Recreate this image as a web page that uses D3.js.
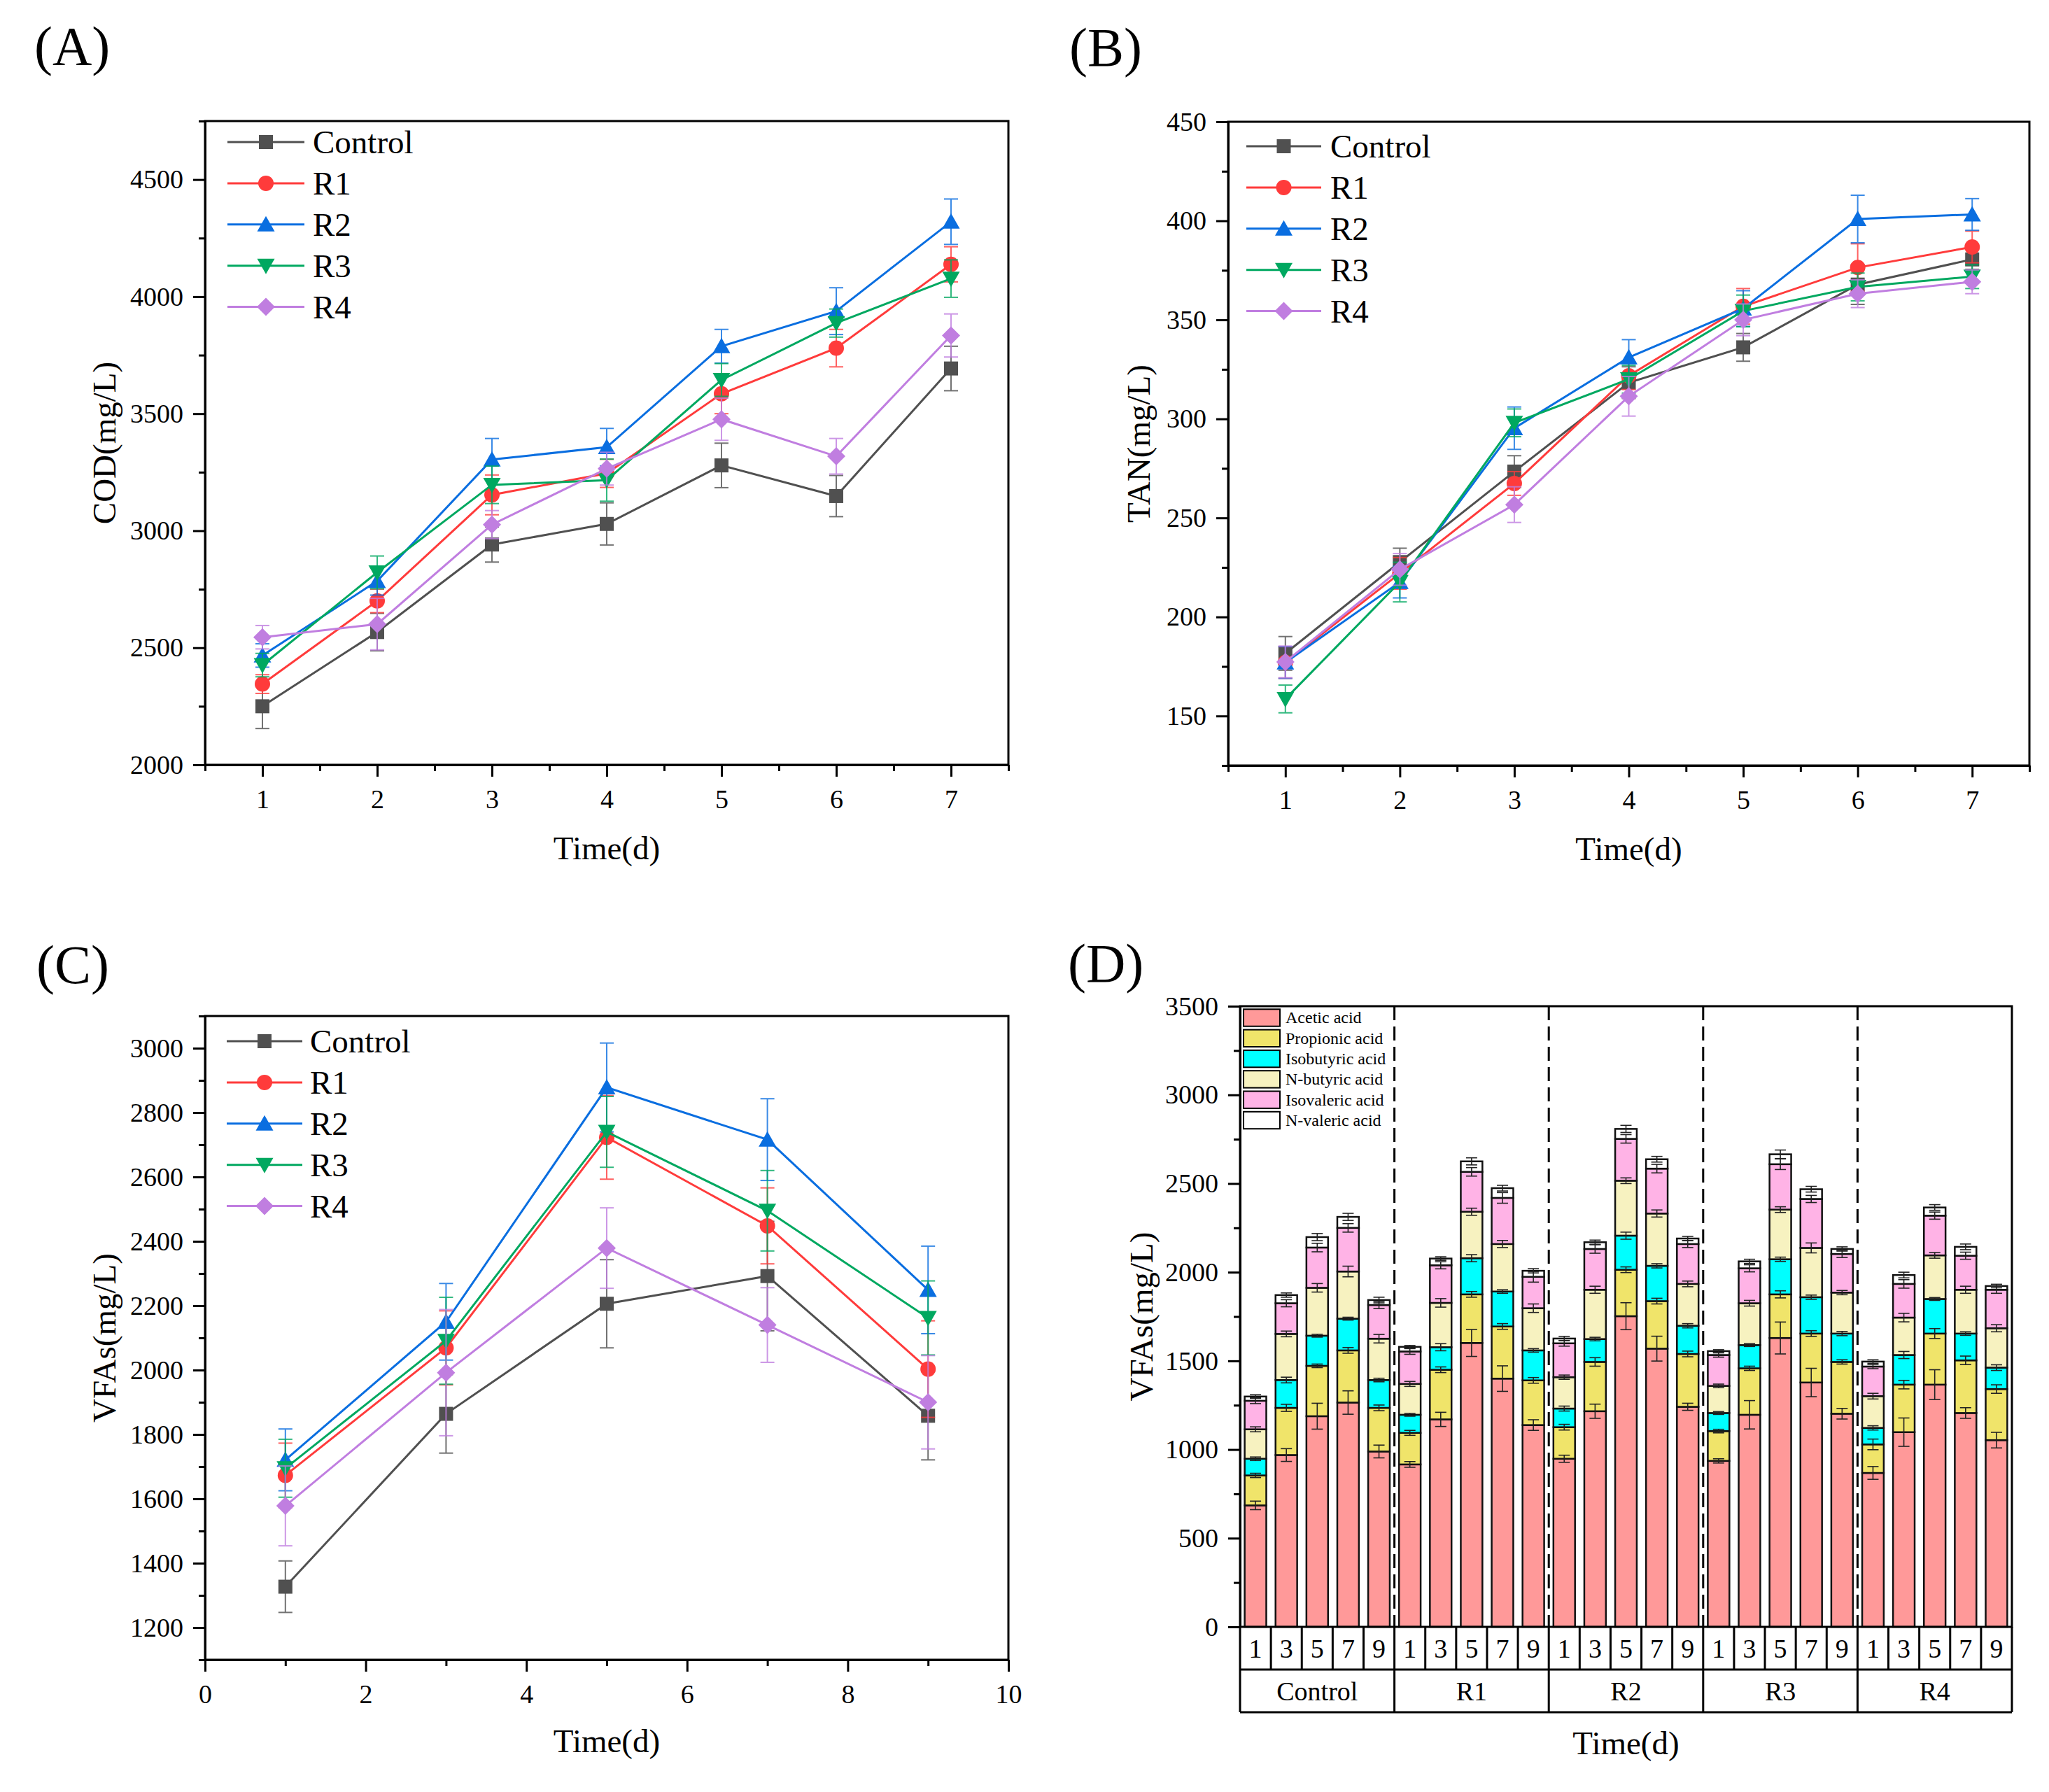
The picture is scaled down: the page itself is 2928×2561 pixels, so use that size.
<!DOCTYPE html>
<html><head><meta charset="utf-8">
<script src="https://cdn.jsdelivr.net/npm/d3@7"></script>
<style>
body{margin:0;background:#fff}
svg{display:block;background:#fff}
text{font-family:"Liberation Serif","Times New Roman",serif;fill:#000}
</style></head>
<body><svg id="c" width="2928" height="2561"></svg>
<script>
// ---------------- DATA ----------------
const seriesNames = ["Control","R1","R2","R3","R4"];
const seriesColors = ["#505050","#FF3B3B","#0A6EE0","#00A860","#C07EE0"];
const markerTypes = ["square","circle","triangleUp","triangleDown","diamond"];

// (A) COD
const codDays = [1,2,3,4,5,6,7];
const codControl = [2250,2567,2941,3029,3279,3148,3693];
const codR1 = [2345,2700,3153,3245,3585,3780,4138];
const codR2 = [2467,2785,3304,3357,3788,3938,4320];
const codR3 = [2426,2822,3196,3216,3644,3887,4077];
const codR4 = [2545,2601,3026,3265,3476,3318,3834];
const codErrControl = [95,80,75,90,95,88,95];
const codErrR1 = [40,50,85,60,85,80,75];
const codErrR2 = [50,60,90,80,72,100,97];
const codErrR3 = [50,70,80,90,70,60,80];
const codErrR4 = [50,110,60,70,90,76,92];

// (B) TAN
const tanDays = [1,2,3,4,5,6,7];
const tanControl = [181.6,227.7,273.4,318.3,336.1,367.8,380.5];
const tanR1 = [177,222,267.4,321.8,356.8,376.4,386.8];
const tanR2 = [177,217.6,295.3,331,355.7,400.9,403.2];
const tanR3 = [158.6,217.6,298,320,354.5,366.6,371.8];
const tanR4 = [177.3,224,256.7,311.4,350,363.2,369.2];
const tanErrControl = [8.5,7,8,8,7,10,5];
const tanErrR1 = [8,8,6,7,9,12,8];
const tanErrR2 = [8,8,10.7,9,9,12,8];
const tanErrR3 = [7,10,7,7,8,7,6];
const tanErrR4 = [8,8,9,10,8,7,6];

// (C) VFAs
const vfaDays = [1,3,5,7,9];
const vfaControl = [1327,1864,2206,2292,1858];
const vfaR1 = [1673,2069,2723,2448,2003];
const vfaR2 = [1721,2150,2878,2716,2249];
const vfaR3 = [1695,2091,2740,2495,2162];
const vfaR4 = [1578,1992,2379,2140,1900];
const vfaErrControl = [80,122,137,170,137];
const vfaErrR1 = [100,115,130,118,150];
const vfaErrR2 = [96,119,138,127,136];
const vfaErrR3 = [90,135,110,125,115];
const vfaErrR4 = [124,196,125,116,145];

// (D) VFA composition (Control d1..d9, R1 d1..d9, ... R4 d1..d9)
const groupNames = ["Control","R1","R2","R3","R4"];
const dayLabels = ["1","3","5","7","9"];
const acidNames = ["Acetic acid","Propionic acid","Isobutyric acid","N-butyric acid","Isovaleric acid","N-valeric acid"];
const acidColors = ["#FF9999","#F0E46A","#00FFFF","#F7F2C0","#FFB3E6","#FFFFFF"];
const acetic     = [685,969,1188,1265,989, 916,1170,1601,1400,1138, 948,1216,1752,1569,1241, 936,1196,1629,1378,1202, 868,1098,1366,1206,1053];
const propionic  = [169,266,284,294,246, 178,280,274,294,252, 178,278,262,268,298, 168,262,246,276,292, 161,268,288,297,288];
const isobutyric = [94,157,170,179,157, 102,127,204,197,169, 105,129,192,199,159, 102,131,198,205,160, 93,167,195,151,121];
const nbutyric   = [166,260,270,266,233, 174,250,262,268,238, 177,278,310,295,236, 153,236,280,278,231, 179,211,246,247,222];
const isovaleric = [161,173,227,246,190, 183,212,225,260,177, 191,230,236,253,225, 174,197,256,276,218, 167,190,224,192,217];
const nvaleric   = [24,46,59,62,28, 26,38,59,55,34, 27,38,56,53,31, 22,39,56,55,28, 28,50,46,50,21];
const aceticErr     = [24,36,73,66,36, 16,40,76,72,30, 20,40,76,70,20, 12,80,90,80,30, 36,80,84,30,44];
const propionicErr  = [12,20,10,16,16, 14,16,16,16,16, 16,24,16,16,16, 10,12,20,16,12, 30,24,28,24,24];
const isobutyricErr = [10,16,8,8,10, 8,20,20,10,10, 14,10,20,12,12, 8,8,12,12,12, 12,20,8,10,16];
const nbutyricErr   = [14,16,24,30,24, 14,24,20,20,24, 12,20,16,20,16, 10,16,16,28,12, 16,24,16,20,20];
const isovalericErr = [16,20,24,24,20, 16,20,24,30,30, 16,24,24,24,20, 12,20,30,20,20, 12,24,20,20,20];
const nvalericErr   = [10,12,20,20,16, 8,10,20,16,12, 12,12,20,16,12, 8,12,24,16,12, 10,16,16,16,10];

// ---------------- DRAWING ----------------
const FONT = '"Liberation Serif","Times New Roman",serif';
const svg = d3.select("#c");

function markerPath(type){
  switch(type){
    case "square": return "M-10,-10H10V10H-10Z";
    case "circle": { const p=d3.path(); p.moveTo(11,0); p.arc(0,0,11,0,2*Math.PI); p.closePath(); return p.toString(); }
    case "triangleUp": return "M0,-12L12.5,10L-12.5,10Z";
    case "triangleDown": return "M0,12L12.5,-10L-12.5,-10Z";
    case "diamond": return "M0,-13L13,0L0,13L-13,0Z";
  }
}

function styleAxis(sel, fontSize){
  sel.attr("font-family", FONT).attr("font-size", fontSize);
  sel.selectAll(".domain").attr("stroke","#000").attr("stroke-width",3);
  sel.selectAll(".tick line").attr("stroke","#000").attr("stroke-width",3);
  sel.selectAll(".tick text").attr("fill","#000");
}

function linePanel(o){
  const x = d3.scaleLinear().domain(o.xDomain).range(o.xRange);
  const y = d3.scaleLinear().domain(o.yDomain).range(o.yRange);
  const g = svg.append("g");
  const [x0,x1] = o.xRange, [yb,yt] = o.yRange;

  // minor ticks
  g.append("g").attr("transform",`translate(0,${yb})`)
    .call(d3.axisBottom(x).tickValues(o.xMinor).tickSize(9).tickFormat("").tickSizeOuter(0))
    .call(s=>{styleAxis(s,38); s.select(".domain").remove();});
  g.append("g").attr("transform",`translate(${x0},0)`)
    .call(d3.axisLeft(y).tickValues(o.yMinor).tickSize(9).tickFormat("").tickSizeOuter(0))
    .call(s=>{styleAxis(s,38); s.select(".domain").remove();});
  // major
  g.append("g").attr("transform",`translate(0,${yb})`)
    .call(d3.axisBottom(x).tickValues(o.xMajor).tickSize(17).tickPadding(18).tickSizeOuter(0).tickFormat(d3.format("d")))
    .call(s=>styleAxis(s,38));
  g.append("g").attr("transform",`translate(${x0},0)`)
    .call(d3.axisLeft(y).tickValues(o.yMajor).tickSize(17).tickPadding(14).tickSizeOuter(0).tickFormat(d3.format("d")))
    .call(s=>styleAxis(s,38));
  // frame
  g.append("rect").attr("x",x0).attr("y",yt).attr("width",x1-x0).attr("height",yb-yt)
    .attr("fill","none").attr("stroke","#000").attr("stroke-width",3);

  // series
  o.series.forEach((vals,si)=>{
    const col = seriesColors[si];
    const errs = o.errors[si];
    const sg = g.append("g");
    o.xs.forEach((xv,i)=>{
      const cx = x(xv), lo = y(vals[i]-errs[i]), hi = y(vals[i]+errs[i]);
      const eg = sg.append("g").attr("stroke",col).attr("stroke-width",2).attr("opacity",0.8);
      eg.append("line").attr("x1",cx).attr("x2",cx).attr("y1",lo).attr("y2",hi);
      eg.append("line").attr("x1",cx-10).attr("x2",cx+10).attr("y1",lo).attr("y2",lo);
      eg.append("line").attr("x1",cx-10).attr("x2",cx+10).attr("y1",hi).attr("y2",hi);
    });
    sg.append("path").attr("d", d3.line().x((d,i)=>x(o.xs[i])).y(d=>y(d))(vals))
      .attr("fill","none").attr("stroke",col).attr("stroke-width",3);
    sg.selectAll("path.m").data(vals).join("path").attr("class","m")
      .attr("d", markerPath(markerTypes[si]))
      .attr("transform",(d,i)=>`translate(${x(o.xs[i])},${y(d)})`)
      .attr("fill",col);
  });

  // legend
  seriesNames.forEach((nm,si)=>{
    const ly = o.leg.y0 + si*58.9;
    g.append("line").attr("x1",o.leg.l1).attr("x2",o.leg.l2).attr("y1",ly).attr("y2",ly)
      .attr("stroke",seriesColors[si]).attr("stroke-width",3);
    g.append("path").attr("d",markerPath(markerTypes[si]))
      .attr("transform",`translate(${(o.leg.l1+o.leg.l2)/2},${ly})`).attr("fill",seriesColors[si]);
    g.append("text").attr("x",o.leg.tx).attr("y",ly+16).attr("font-size",47).text(nm);
  });

  // titles
  g.append("text").attr("x",(x0+x1)/2).attr("y",o.xTitleY).attr("text-anchor","middle")
    .attr("font-size",47).text("Time(d)");
  g.append("text").attr("transform",`translate(${o.yTitleX},${(yb+yt)/2}) rotate(-90)`)
    .attr("text-anchor","middle").attr("font-size",47).text(o.yTitle);
  g.append("text").attr("x",o.label[0]).attr("y",o.label[1]).attr("font-size",78).text(o.labelText);
}

const stepRange = (a,b,s)=>d3.range(a,b+s/2,s);

linePanel({
  xDomain:[0.5,7.5], xRange:[293,1441], yDomain:[2000,4750], yRange:[1093,173],
  xMajor:codDays, xMinor:stepRange(0.5,7.5,1), yMajor:stepRange(2000,4500,500), yMinor:stepRange(2250,4750,500),
  xs:codDays, series:[codControl,codR1,codR2,codR3,codR4],
  errors:[codErrControl,codErrR1,codErrR2,codErrR3,codErrR4],
  leg:{y0:203,l1:325,l2:435,tx:447}, xTitleY:1228, yTitleX:165, yTitle:"COD(mg/L)",
  label:[49,92], labelText:"(A)"
});
linePanel({
  xDomain:[0.5,7.5], xRange:[1755,2900], yDomain:[125,450], yRange:[1094,174],
  xMajor:tanDays, xMinor:stepRange(0.5,7.5,1), yMajor:stepRange(150,450,50), yMinor:stepRange(125,425,50),
  xs:tanDays, series:[tanControl,tanR1,tanR2,tanR3,tanR4],
  errors:[tanErrControl,tanErrR1,tanErrR2,tanErrR3,tanErrR4],
  leg:{y0:209,l1:1781,l2:1888,tx:1901}, xTitleY:1229, yTitleX:1643, yTitle:"TAN(mg/L)",
  label:[1528,94], labelText:"(B)"
});
linePanel({
  xDomain:[0,10], xRange:[293,1441], yDomain:[1100,3100], yRange:[2372,1452],
  xMajor:stepRange(0,10,2), xMinor:stepRange(1,9,2), yMajor:stepRange(1200,3000,200), yMinor:stepRange(1100,3100,200),
  xs:vfaDays, series:[vfaControl,vfaR1,vfaR2,vfaR3,vfaR4],
  errors:[vfaErrControl,vfaErrR1,vfaErrR2,vfaErrR3,vfaErrR4],
  leg:{y0:1488,l1:324,l2:432,tx:443}, xTitleY:2504, yTitleX:165, yTitle:"VFAs(mg/L)",
  label:[52,1405], labelText:"(C)"
});

// ---------------- PANEL D ----------------
(function(){
  const X0=1772, X1=2875, YB=2325, YT=1438, R1B=2386, R2B=2447;
  const g = svg.append("g");
  const idx = d3.range(groupNames.length*dayLabels.length);
  const xb = d3.scaleBand().domain(idx).range([X0,X1]).paddingInner(0.3).paddingOuter(0.15);
  const y = d3.scaleLinear().domain([0,3500]).range([YB,YT]);
  const values = [acetic,propionic,isobutyric,nbutyric,isovaleric,nvaleric];
  const errs = [aceticErr,propionicErr,isobutyricErr,nbutyricErr,isovalericErr,nvalericErr];
  const rows = idx.map(i=>{const r={i}; acidNames.forEach((a,k)=>r[a]=values[k][i]); return r;});
  const stacked = d3.stack().keys(acidNames)(rows);

  for(let k=1;k<groupNames.length;k++){
    const gx = X0 + k*5*xb.step();
    g.append("line").attr("x1",gx).attr("x2",gx).attr("y1",YT).attr("y2",YB)
      .attr("stroke","#000").attr("stroke-width",3).attr("stroke-dasharray","20,9");
  }
  stacked.forEach((layer,k)=>{
    g.append("g").selectAll("rect").data(layer).join("rect")
      .attr("x",(d,i)=>xb(i)).attr("width",xb.bandwidth())
      .attr("y",d=>y(d[1])).attr("height",d=>y(d[0])-y(d[1]))
      .attr("fill",acidColors[k]).attr("stroke","#111").attr("stroke-width",2.5);
  });
  stacked.forEach((layer,k)=>{
    layer.forEach((d,i)=>{
      const cx = xb(i)+xb.bandwidth()/2, e = errs[k][i];
      const lo=y(d[1]-e), hi=y(d[1]+e);
      const eg = g.append("g").attr("stroke","#222").attr("stroke-width",1.6);
      eg.append("line").attr("x1",cx).attr("x2",cx).attr("y1",lo).attr("y2",hi);
      eg.append("line").attr("x1",cx-8).attr("x2",cx+8).attr("y1",lo).attr("y2",lo);
      eg.append("line").attr("x1",cx-8).attr("x2",cx+8).attr("y1",hi).attr("y2",hi);
    });
  });
  g.append("g").attr("transform",`translate(${X0},0)`)
    .call(d3.axisLeft(y).tickValues(stepRange(250,3250,500)).tickSize(9).tickFormat("").tickSizeOuter(0))
    .call(s=>{styleAxis(s,38); s.select(".domain").remove();});
  g.append("g").attr("transform",`translate(${X0},0)`)
    .call(d3.axisLeft(y).tickValues(stepRange(0,3500,500)).tickSize(17).tickPadding(14).tickSizeOuter(0).tickFormat(d3.format("d")))
    .call(s=>styleAxis(s,38));
  g.append("rect").attr("x",X0).attr("y",YT).attr("width",X1-X0).attr("height",YB-YT)
    .attr("fill","none").attr("stroke","#000").attr("stroke-width",3);

  const tg = g.append("g").attr("stroke","#000").attr("stroke-width",3);
  tg.append("line").attr("x1",X0).attr("x2",X1).attr("y1",R1B).attr("y2",R1B);
  tg.append("line").attr("x1",X0).attr("x2",X1).attr("y1",R2B).attr("y2",R2B);
  for(let k=0;k<=idx.length;k++){
    const lx = X0 + k*xb.step();
    tg.append("line").attr("x1",lx).attr("x2",lx).attr("y1",YB).attr("y2", k%5===0 ? R2B : R1B);
  }
  idx.forEach(i=>{
    g.append("text").attr("x",xb(i)+xb.bandwidth()/2).attr("y",2369).attr("text-anchor","middle")
      .attr("font-size",38).text(dayLabels[i%5]);
  });
  groupNames.forEach((nm,k)=>{
    g.append("text").attr("x",X0+(k*5+2.5)*xb.step()).attr("y",2430).attr("text-anchor","middle")
      .attr("font-size",38).text(nm);
  });

  acidNames.forEach((nm,k)=>{
    const ty = 1442.3 + k*29.3;
    g.append("rect").attr("x",1777).attr("y",ty).attr("width",52).attr("height",24.4)
      .attr("fill",acidColors[k]).attr("stroke","#000").attr("stroke-width",2);
    g.append("text").attr("x",1837).attr("y",ty+20).attr("font-size",24).text(nm);
  });

  g.append("text").attr("x",(X0+X1)/2).attr("y",2507).attr("text-anchor","middle").attr("font-size",47).text("Time(d)");
  g.append("text").attr("transform",`translate(1647,${(YB+YT)/2}) rotate(-90)`)
    .attr("text-anchor","middle").attr("font-size",47).text("VFAs(mg/L)");
  g.append("text").attr("x",1526).attr("y",1403).attr("font-size",78).text("(D)");
})();
</script></body></html>
